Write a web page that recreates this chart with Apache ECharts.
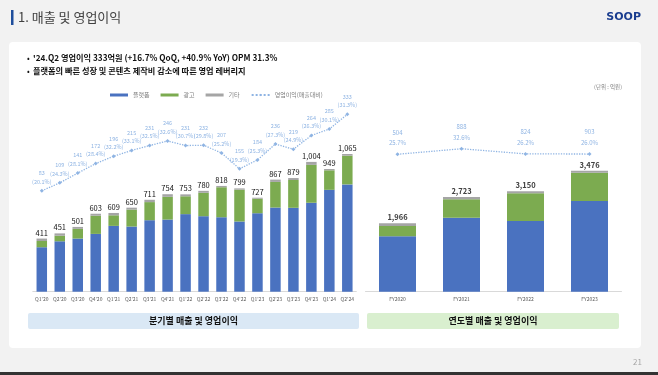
<!DOCTYPE html>
<html>
<head>
<meta charset="utf-8">
<script src="https://cdn.jsdelivr.net/npm/echarts@6/dist/echarts.min.js"></script>
<style>
  html, body { margin: 0; padding: 0; background: #f2f2f2; }
  #main { width: 658px; height: 375px; }
</style>
</head>
<body>
<div id="main"></div>
<script>
var FONT = "'Noto Sans CJK KR', 'Noto Sans', sans-serif";

// 분기별 (억원)
var quarters = ["Q1'20", "Q2'20", "Q3'20", "Q4'20", "Q1'21", "Q2'21", "Q3'21", "Q4'21", "Q1'22",
                "Q2'22", "Q3'22", "Q4'22", "Q1'23", "Q2'23", "Q3'23", "Q4'23", "Q1'24", "Q2'24"];
var qPlatform = [344, 390, 411, 447, 509, 504, 553, 558, 600, 584, 576, 543, 607, 651, 649, 688, 788, 830];
var qAd       = [48, 43, 75, 141, 82, 131, 140, 176, 138, 181, 232, 246, 112, 198, 215, 293, 151, 222];
var qOther    = [19, 18, 15, 15, 18, 15, 18, 20, 15, 15, 10, 10, 8, 18, 15, 23, 10, 13];
var qTotal    = [411, 451, 501, 603, 609, 650, 711, 754, 753, 780, 818, 799, 727, 867, 879, 1004, 949, 1065];
var qOp       = [83, 109, 141, 172, 196, 215, 231, 246, 231, 232, 207, 155, 184, 236, 219, 264, 285, 333];
var qOpm      = ['20.1', '24.3', '28.1', '28.4', '32.2', '33.1', '32.5', '32.6', '30.7', '29.8', '25.2', '19.3',
                 '25.3', '27.3', '24.9', '26.3', '30.1', '31.3'];

// 연도별 (억원)
var years     = ['FY2020', 'FY2021', 'FY2022', 'FY2023'];
var yPlatform = [1590, 2126, 2031, 2606];
var yAd       = [299, 530, 795, 813];
var yOther    = [77, 67, 57, 57];
var yTotal    = [1966, 2723, 3150, 3476];
var yOp       = [504, 888, 824, 903];
var yOpm      = [25.7, 32.6, 26.2, 26.0];

var C_BLUE = '#4a72c0';
var C_GREEN = '#7cab50';
var C_GRAY = '#a5a5a5';
var C_LINE = '#8fb4e3';

var chart = echarts.init(document.getElementById('main'));

function totalLabel(arr, size, weight, color) {
    return {
        show: true, position: 'top', distance: 2,
        fontFamily: FONT, fontSize: size, fontWeight: weight, color: color,
        formatter: function (p) { return arr[p.dataIndex].toLocaleString('en-US'); }
    };
}

var option = {
    animation: false,
    textStyle: { fontFamily: FONT },
    legend: {
        left: 105, top: 87,
        itemWidth: 18, itemHeight: 3, itemGap: 11,
        textStyle: { fontSize: 6, color: '#7f7f7f', fontFamily: FONT },
        data: [
            { name: '플랫폼', icon: 'rect' },
            { name: '광고', icon: 'rect' },
            { name: '기타', icon: 'rect' },
            { name: '영업이익(매출대비)' }
        ]
    },
    grid: [
        { left: 32.8, right: 301.7, top: 110.7, bottom: 83.3 },
        { left: 365.5, right: 36.5, top: 117.7, bottom: 83.3 }
    ],
    xAxis: [
        {
            type: 'category', gridIndex: 0, data: quarters,
            axisLine: { lineStyle: { color: '#d9d9d9' } }, axisTick: { show: false },
            axisLabel: { fontSize: 5, color: '#595959', margin: 5, interval: 0 }
        },
        {
            type: 'category', gridIndex: 1, data: years,
            axisLine: { lineStyle: { color: '#d9d9d9' } }, axisTick: { show: false },
            axisLabel: { fontSize: 5, color: '#595959', margin: 5 }
        }
    ],
    yAxis: [
        { type: 'value', gridIndex: 0, min: 0, max: 1400, show: false, splitLine: { show: false } },
        { type: 'value', gridIndex: 0, min: -247, max: 345, show: false, splitLine: { show: false } },
        { type: 'value', gridIndex: 1, min: 0, max: 5000, show: false, splitLine: { show: false } },
        { type: 'value', gridIndex: 1, min: -146, max: 71.4, show: false, splitLine: { show: false } }
    ],
    series: [
        { name: '플랫폼', type: 'bar', stack: 'q', xAxisIndex: 0, yAxisIndex: 0, barWidth: 10.5,
          itemStyle: { color: C_BLUE }, data: qPlatform },
        { name: '광고', type: 'bar', stack: 'q', xAxisIndex: 0, yAxisIndex: 0, barWidth: 10.5,
          itemStyle: { color: C_GREEN }, data: qAd },
        { name: '기타', type: 'bar', stack: 'q', xAxisIndex: 0, yAxisIndex: 0, barWidth: 10.5,
          itemStyle: { color: C_GRAY }, data: qOther,
          label: totalLabel(qTotal, 7.5, 'normal', '#111') },
        { name: '영업이익(매출대비)', type: 'line', xAxisIndex: 0, yAxisIndex: 1, z: 5,
          symbol: 'diamond', symbolSize: 4,
          itemStyle: { color: C_LINE }, lineStyle: { color: C_LINE, type: 'dotted', width: 1.3 },
          label: {
              show: true, position: 'top', distance: 3, fontSize: 5.5, lineHeight: 8.5, color: C_LINE,
              formatter: function (p) { return qOp[p.dataIndex] + '\n(' + qOpm[p.dataIndex] + '%)'; }
          },
          data: qOp },

        { name: '플랫폼', type: 'bar', stack: 'y', xAxisIndex: 1, yAxisIndex: 2, barWidth: 37,
          itemStyle: { color: C_BLUE }, data: yPlatform },
        { name: '광고', type: 'bar', stack: 'y', xAxisIndex: 1, yAxisIndex: 2, barWidth: 37,
          itemStyle: { color: C_GREEN }, data: yAd },
        { name: '기타', type: 'bar', stack: 'y', xAxisIndex: 1, yAxisIndex: 2, barWidth: 37,
          itemStyle: { color: C_GRAY }, data: yOther,
          label: totalLabel(yTotal, 7.5, 'bold', '#404040') },
        { name: '영업이익(매출대비)', type: 'line', xAxisIndex: 1, yAxisIndex: 3, z: 5,
          symbol: 'diamond', symbolSize: 4,
          itemStyle: { color: C_LINE }, lineStyle: { color: C_LINE, type: 'dotted', width: 1.3 },
          label: {
              show: true, position: 'top', distance: 4, fontSize: 6, lineHeight: 10.6, color: C_LINE,
              formatter: function (p) { return yOp[p.dataIndex] + '\n' + yOpm[p.dataIndex].toFixed(1) + '%'; }
          },
          data: yOpm }
    ],
    graphic: [
        { type: 'rect', z: -10, silent: true, shape: { x: 0, y: 0, width: 658, height: 375 }, style: { fill: '#f2f2f2' } },
        { type: 'rect', z: -9, silent: true, shape: { x: 9, y: 42, width: 632, height: 306, r: 4 }, style: { fill: '#ffffff' } },
        { type: 'rect', z: -8, shape: { x: 0, y: 372, width: 658, height: 3 }, style: { fill: '#333333' } },
        { type: 'rect', shape: { x: 11, y: 10, width: 2.5, height: 15 }, style: { fill: '#1f4e9c' } },
        { type: 'text', x: 18, y: 17.5, style: { text: '1. 매출 및 영업이익', fontFamily: FONT, fontSize: 13,
          fill: '#404040', verticalAlign: 'middle' } },
        { type: 'text', x: 641, y: 17, style: { text: 'SOOP', fontFamily: 'DejaVu Sans', fontWeight: 'bold', fontSize: 11,
          fill: '#1a3d8f', align: 'right', verticalAlign: 'middle' } },
        { type: 'text', x: 27, y: 57.5, style: { text: '•', fontFamily: FONT, fontSize: 8, fill: '#111', verticalAlign: 'middle' } },
        { type: 'text', x: 33, y: 57.5, style: { text: "'24.Q2 영업이익 333억원 (+16.7% QoQ, +40.9% YoY) OPM 31.3%",
          fontFamily: FONT, fontSize: 8.2, fontWeight: 'bold', fill: '#111', verticalAlign: 'middle' } },
        { type: 'text', x: 27, y: 71, style: { text: '•', fontFamily: FONT, fontSize: 8, fill: '#111', verticalAlign: 'middle' } },
        { type: 'text', x: 33, y: 71, style: { text: '플랫폼의 빠른 성장 및 콘텐츠 제작비 감소에 따른 영업 레버리지',
          fontFamily: FONT, fontSize: 8.2, fontWeight: 'bold', fill: '#111', verticalAlign: 'middle' } },
        { type: 'text', x: 622, y: 87, style: { text: '(단위 : 억원)', fontFamily: FONT, fontSize: 5.5,
          fill: '#7f7f7f', align: 'right', verticalAlign: 'middle' } },
        { type: 'rect', shape: { x: 28, y: 313, width: 331, height: 16, r: 2 }, style: { fill: '#dae8f5' } },
        { type: 'text', x: 193.5, y: 321, style: { text: '분기별 매출 및 영업이익', fontFamily: FONT, fontSize: 9,
          fontWeight: 'bold', fill: '#111', align: 'center', verticalAlign: 'middle' } },
        { type: 'rect', shape: { x: 367, y: 313, width: 252, height: 16, r: 2 }, style: { fill: '#d9efcf' } },
        { type: 'text', x: 493, y: 321, style: { text: '연도별 매출 및 영업이익', fontFamily: FONT, fontSize: 9,
          fontWeight: 'bold', fill: '#111', align: 'center', verticalAlign: 'middle' } },
        { type: 'text', x: 642, y: 362, style: { text: '21', fontFamily: FONT, fontSize: 8,
          fill: '#a6a6a6', align: 'right', verticalAlign: 'middle' } }
    ]
};

chart.setOption(option);
window.onresize = chart.resize;
</script>
</body>
</html>
